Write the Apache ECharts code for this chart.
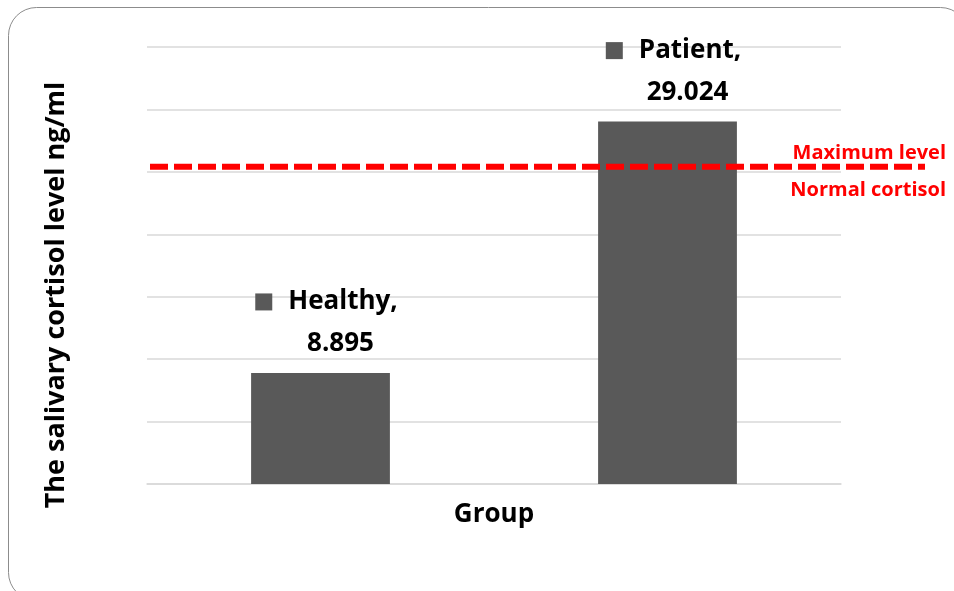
<!DOCTYPE html>
<html>
<head>
<meta charset="UTF-8">
<script src="https://cdn.jsdelivr.net/npm/echarts@6/dist/echarts.min.js"></script>
<style>
html, body { margin: 0; padding: 0; background: #fff; }
#main { width: 954px; height: 591px; }
</style>
</head>
<body>
<div id="main"></div>
<script type="text/javascript">
// data
var groups = ['Healthy', 'Patient'];
var cortisol = [8.895, 29.024];
var normalMax = 25.4;      // red dashed "Maximum level / Normal cortisol"
var yMin = 0, yMax = 35, yStep = 5;

var font = '"Open Sans"';
var myChart = echarts.init(document.getElementById('main'));

var option = {
    animation: false,
    textStyle: { fontFamily: font },
    grid: [
        { left: 147, right: 113, top: 47, bottom: 107 },
        // wider grid so the reference line runs past the plot
        { left: 150, right: 29, top: 47, bottom: 107 }
    ],
    xAxis: [
        {
            type: 'category',
            gridIndex: 0,
            data: groups,
            name: 'Group',
            nameLocation: 'middle',
            nameGap: 18,
            nameTextStyle: { fontFamily: font, fontWeight: 'bold', fontSize: 26, color: '#000' },
            axisLine: { lineStyle: { color: '#d9d9d9', width: 1.5 } },
            axisTick: { show: false },
            axisLabel: { show: false }
        },
        { type: 'value', gridIndex: 1, min: 0, max: 1, show: false }
    ],
    yAxis: [
        {
            type: 'value',
            gridIndex: 0,
            min: yMin, max: yMax, interval: yStep,
            axisLine: { show: false },
            axisTick: { show: false },
            axisLabel: { show: false },
            splitLine: { lineStyle: { color: '#d9d9d9', width: 1.5 } }
        },
        { type: 'value', gridIndex: 1, min: yMin, max: yMax, show: false }
    ],
    series: [
        {
            type: 'bar',
            xAxisIndex: 0, yAxisIndex: 0,
            data: cortisol,
            barWidth: '40%',
            itemStyle: { color: '#595959' },
            label: {
                show: true,
                position: 'top',
                distance: 8,
                offset: [6, 0],
                formatter: function (p) {
                    return '{sq|}{n|' + p.name + ',}\n{v|' + p.value + '}';
                },
                rich: {
                    sq: { backgroundColor: '#595959', width: 17, height: 17 },
                    n: { fontFamily: font, fontWeight: 'bold', fontSize: 26, color: '#000', padding: [0, 0, 0, 16], lineHeight: 42 },
                    v: { fontFamily: font, fontWeight: 'bold', fontSize: 26, color: '#000', padding: [0, 0, 0, 28], lineHeight: 42 }
                }
            }
        },
        {
            type: 'line',
            xAxisIndex: 1, yAxisIndex: 1,
            data: [[0, normalMax], [1, normalMax]],
            symbol: 'none',
            z: 5,
            lineStyle: { color: '#ff0000', width: 6, type: [18, 6] }
        }
    ],
    graphic: [
        {
            type: 'rect',
            shape: { x: 8.5, y: 7.5, width: 960, height: 593, r: 28 },
            style: { fill: 'none', stroke: '#8c8c8c', lineWidth: 1 },
            silent: true
        },
        {
            type: 'text',
            x: 56, y: 295,
            rotation: Math.PI / 2,
            style: {
                text: 'The salivary cortisol level ng/ml',
                fontFamily: font, fontWeight: 'bold', fontSize: 27, fill: '#000',
                align: 'center', verticalAlign: 'middle'
            }
        },
        {
            type: 'text',
            x: 946, y: 153,
            style: {
                text: 'Maximum level',
                fontFamily: font, fontWeight: 'bold', fontSize: 20, fill: '#ff0000',
                align: 'right', verticalAlign: 'middle'
            }
        },
        {
            type: 'text',
            x: 946, y: 190,
            style: {
                text: 'Normal cortisol',
                fontFamily: font, fontWeight: 'bold', fontSize: 20, fill: '#ff0000',
                align: 'right', verticalAlign: 'middle'
            }
        }
    ]
};

myChart.setOption(option);
</script>
</body>
</html>
